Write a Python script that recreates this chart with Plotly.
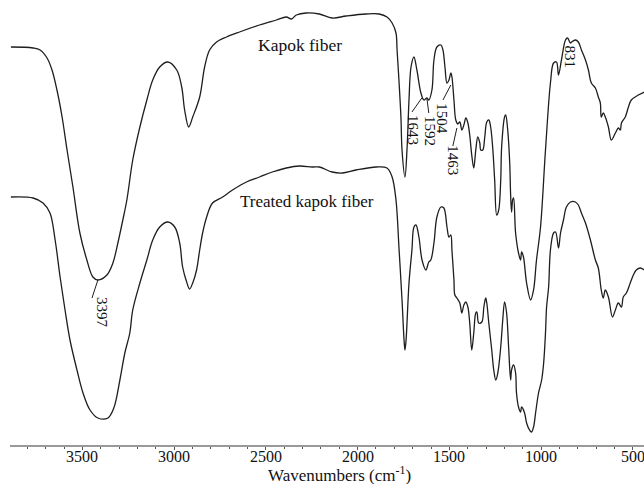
import plotly.graph_objects as go

# Kapok fiber (upper spectrum): wavenumber (cm-1) and relative transmittance (arb.)
kapok_wn = [3890, 3769, 3731, 3693, 3666, 3639, 3611, 3584, 3552, 3514, 3476, 3443, 3416, 3367,
            3334, 3307, 3280, 3258, 3226, 3187, 3149, 3117, 3079, 3035, 2986, 2959, 2943, 2921,
            2899, 2861, 2834, 2807, 2769, 2715, 2644, 2535, 2443, 2389, 2361, 2334, 2280, 2209,
            2139, 2062, 1954, 1883, 1840, 1812, 1791, 1785, 1774, 1764, 1758, 1742, 1731, 1720,
            1709, 1693, 1677, 1655, 1639, 1622, 1612, 1595, 1584, 1568, 1546, 1535, 1524, 1513,
            1502, 1492, 1486, 1475, 1465, 1454, 1443, 1432, 1421, 1410, 1399, 1389, 1378, 1367,
            1356, 1345, 1334, 1329, 1318, 1307, 1296, 1285, 1275, 1264, 1253, 1242, 1231, 1220,
            1215, 1199, 1193, 1182, 1171, 1166, 1161, 1155, 1150, 1139, 1123, 1112, 1106, 1096,
            1079, 1057, 1041, 1025, 1003, 976, 949, 932, 916, 905, 889, 867, 856, 840, 834, 813,
            797, 780, 758, 742, 726, 704, 688, 677, 672, 661, 650, 633, 617, 595, 579, 568, 562,
            541, 524, 508, 470, 437]
kapok_t = [409, 408, 406, 398, 386, 366, 339, 306, 269, 223, 196, 179, 176, 181,
           193, 213, 236, 256, 296, 329, 356, 376, 389, 394, 386, 369, 346, 329,
           339, 359, 389, 406, 414, 419, 424, 431, 436, 439, 437, 441, 443, 442,
           438, 440, 442, 442, 439, 433, 423, 406, 373, 339, 306, 279, 306, 356,
           389, 399, 386, 363, 356, 358, 356, 366, 396, 409, 411, 406, 389, 373,
           376, 383, 379, 356, 336, 332, 334, 326, 331, 338, 333, 321, 301, 288,
           306, 319, 313, 306, 306, 319, 334, 336, 329, 309, 276, 241, 246, 276,
           309, 339, 341, 326, 293, 261, 244, 256, 258, 223, 203, 196, 204, 199,
           173, 156, 166, 196, 229, 306, 373, 393, 394, 381, 396, 416, 418, 413, 414, 416,
           414, 406, 396, 386, 373, 368, 359, 353, 339, 343, 339, 329, 316, 323, 328, 326, 333,
           339, 349, 356, 361, 364]

# Treated kapok fiber (lower spectrum)
treated_wn = [3890, 3769, 3715, 3677, 3649, 3622, 3595, 3568, 3530, 3497, 3459, 3416, 3361, 3329,
              3296, 3269, 3242, 3226, 3187, 3149, 3117, 3079, 3035, 2997, 2970, 2954, 2932, 2916,
              2899, 2878, 2861, 2845, 2823, 2791, 2736, 2682, 2606, 2535, 2465, 2389, 2318, 2247,
              2209, 2139, 2084, 2008, 1899, 1840, 1812, 1791, 1774, 1758, 1747, 1742, 1736, 1720,
              1704, 1693, 1682, 1666, 1649, 1628, 1612, 1601, 1584, 1568, 1546, 1530, 1513, 1502,
              1492, 1486, 1475, 1470, 1459, 1443, 1432, 1421, 1410, 1399, 1389, 1378, 1367, 1356,
              1350, 1340, 1323, 1312, 1302, 1296, 1285, 1269, 1258, 1247, 1236, 1220, 1209, 1199,
              1188, 1177, 1166, 1161, 1150, 1139, 1134, 1123, 1112, 1106, 1090, 1079, 1063, 1052,
              1041, 1030, 1014, 997, 986, 976, 970, 959, 949, 932, 921, 905, 894, 878, 862, 840,
              813, 797, 780, 758, 731, 704, 688, 672, 661, 650, 633, 611, 595, 579, 562, 552, 535,
              514, 497, 481, 459, 437]
treated_t = [259, 258, 253, 243, 216, 179, 146, 116, 86, 63, 46, 38, 38, 48,
             76, 103, 123, 146, 173, 196, 216, 229, 234, 229, 213, 189, 174, 167,
             173, 186, 206, 223, 239, 253, 259, 266, 274, 279, 284, 288, 290, 289,
             289, 284, 283, 286, 289, 288, 279, 256, 206, 156, 116, 106, 116, 173,
             206, 229, 231, 219, 196, 186, 194, 196, 213, 239, 249, 248, 229, 219,
             221, 206, 176, 161, 158, 153, 143, 151, 154, 149, 133, 106, 123, 143,
             144, 133, 134, 149, 158, 153, 133, 106, 86, 76, 83, 109, 136, 154,
             143, 109, 76, 86, 91, 83, 63, 49, 44, 49, 43, 33, 26, 24,
             29, 43, 63, 76, 93, 123, 149, 169, 206, 223, 224, 208, 223, 236, 249, 254,
             254, 251, 243, 233, 216, 196, 188, 166, 158, 166, 159, 139, 146, 153, 149, 159, 163,
             173, 181, 186, 188, 186]

# Peak labels: text, wavenumber, transmittance position of the label
peak_text = ["3397", "1643", "1592", "1504", "1463", "831"]
peak_wn = [3394, 1698, 1606, 1541, 1481, 840]
peak_t = [143, 326, 325, 337, 296, 399]

# Leader lines from the band to its label: (wn0, t0, wn1, t1)
leader_wn0 = [3416, 1650, 1622, 1492, 1459]
leader_t0 = [176, 358, 357, 371, 328]
leader_wn1 = [3448, 1704, 1612, 1535, 1481]
leader_t1 = [158, 344, 343, 356, 310]

# Curve labels
curve_labels = ["Kapok fiber", "Treated kapok fiber"]
curve_label_wn = [2312, 2274]
curve_label_t = [411, 255]

tick_vals = [3500, 3000, 2500, 2000, 1500, 1000, 500]

FONT = "Liberation Serif, Times New Roman, serif"
LINE = "#1e1e1e"

fig = go.Figure()
fig.add_trace(go.Scatter(x=kapok_wn, y=kapok_t, mode="lines",
                         line=dict(color=LINE, width=1.3), line_shape="spline",
                         hoverinfo="skip", showlegend=False))
fig.add_trace(go.Scatter(x=treated_wn, y=treated_t, mode="lines",
                         line=dict(color=LINE, width=1.3), line_shape="spline",
                         hoverinfo="skip", showlegend=False))

for i in range(len(leader_wn0)):
    fig.add_shape(type="line", xref="x", yref="y",
                  x0=leader_wn0[i], y0=leader_t0[i], x1=leader_wn1[i], y1=leader_t1[i],
                  line=dict(color=LINE, width=1))

for txt, wn, t in zip(peak_text, peak_wn, peak_t):
    fig.add_annotation(x=wn, y=t, xref="x", yref="y", text=txt, showarrow=False,
                       textangle=90, font=dict(family=FONT, size=15, color="#111"),
                       xanchor="center", yanchor="middle")

for txt, wn, t, fs in zip(curve_labels, curve_label_wn, curve_label_t, [17.5, 17]):
    fig.add_annotation(x=wn, y=t, xref="x", yref="y", text=txt, showarrow=False,
                       font=dict(family=FONT, size=fs, color="#111"),
                       xanchor="center", yanchor="middle")

# tick labels (placed just under the axis line, the last one cut by the page edge)
for v in tick_vals:
    fig.add_annotation(x=v, y=-0.025, xref="x", yref="paper", text=str(v), showarrow=False,
                       font=dict(family=FONT, size=16, color="#111"),
                       xanchor="center", yanchor="middle")

fig.add_annotation(x=0.52, y=-0.065, xref="paper", yref="paper",
                   text="Wavenumbers (cm<sup>-1</sup>)", showarrow=False,
                   font=dict(family=FONT, size=17, color="#111"),
                   xanchor="center", yanchor="middle")

fig.update_layout(
    width=644, height=484,
    margin=dict(l=10, r=0, t=0, b=39),
    paper_bgcolor="white", plot_bgcolor="white",
    xaxis=dict(range=[3895, 439], tickvals=tick_vals, showticklabels=False,
               showgrid=False, zeroline=False, showline=True, linecolor="#9a9a9a", linewidth=2,
               ticks="outside", ticklen=3, tickcolor="#555", tickwidth=1,
               minor=dict(dtick=100, tick0=500, ticks="outside", ticklen=2, tickcolor="#555",
                          showgrid=False)),
    yaxis=dict(range=[11, 456], visible=False, showgrid=False, zeroline=False),
)

fig.write_html("out.html")
